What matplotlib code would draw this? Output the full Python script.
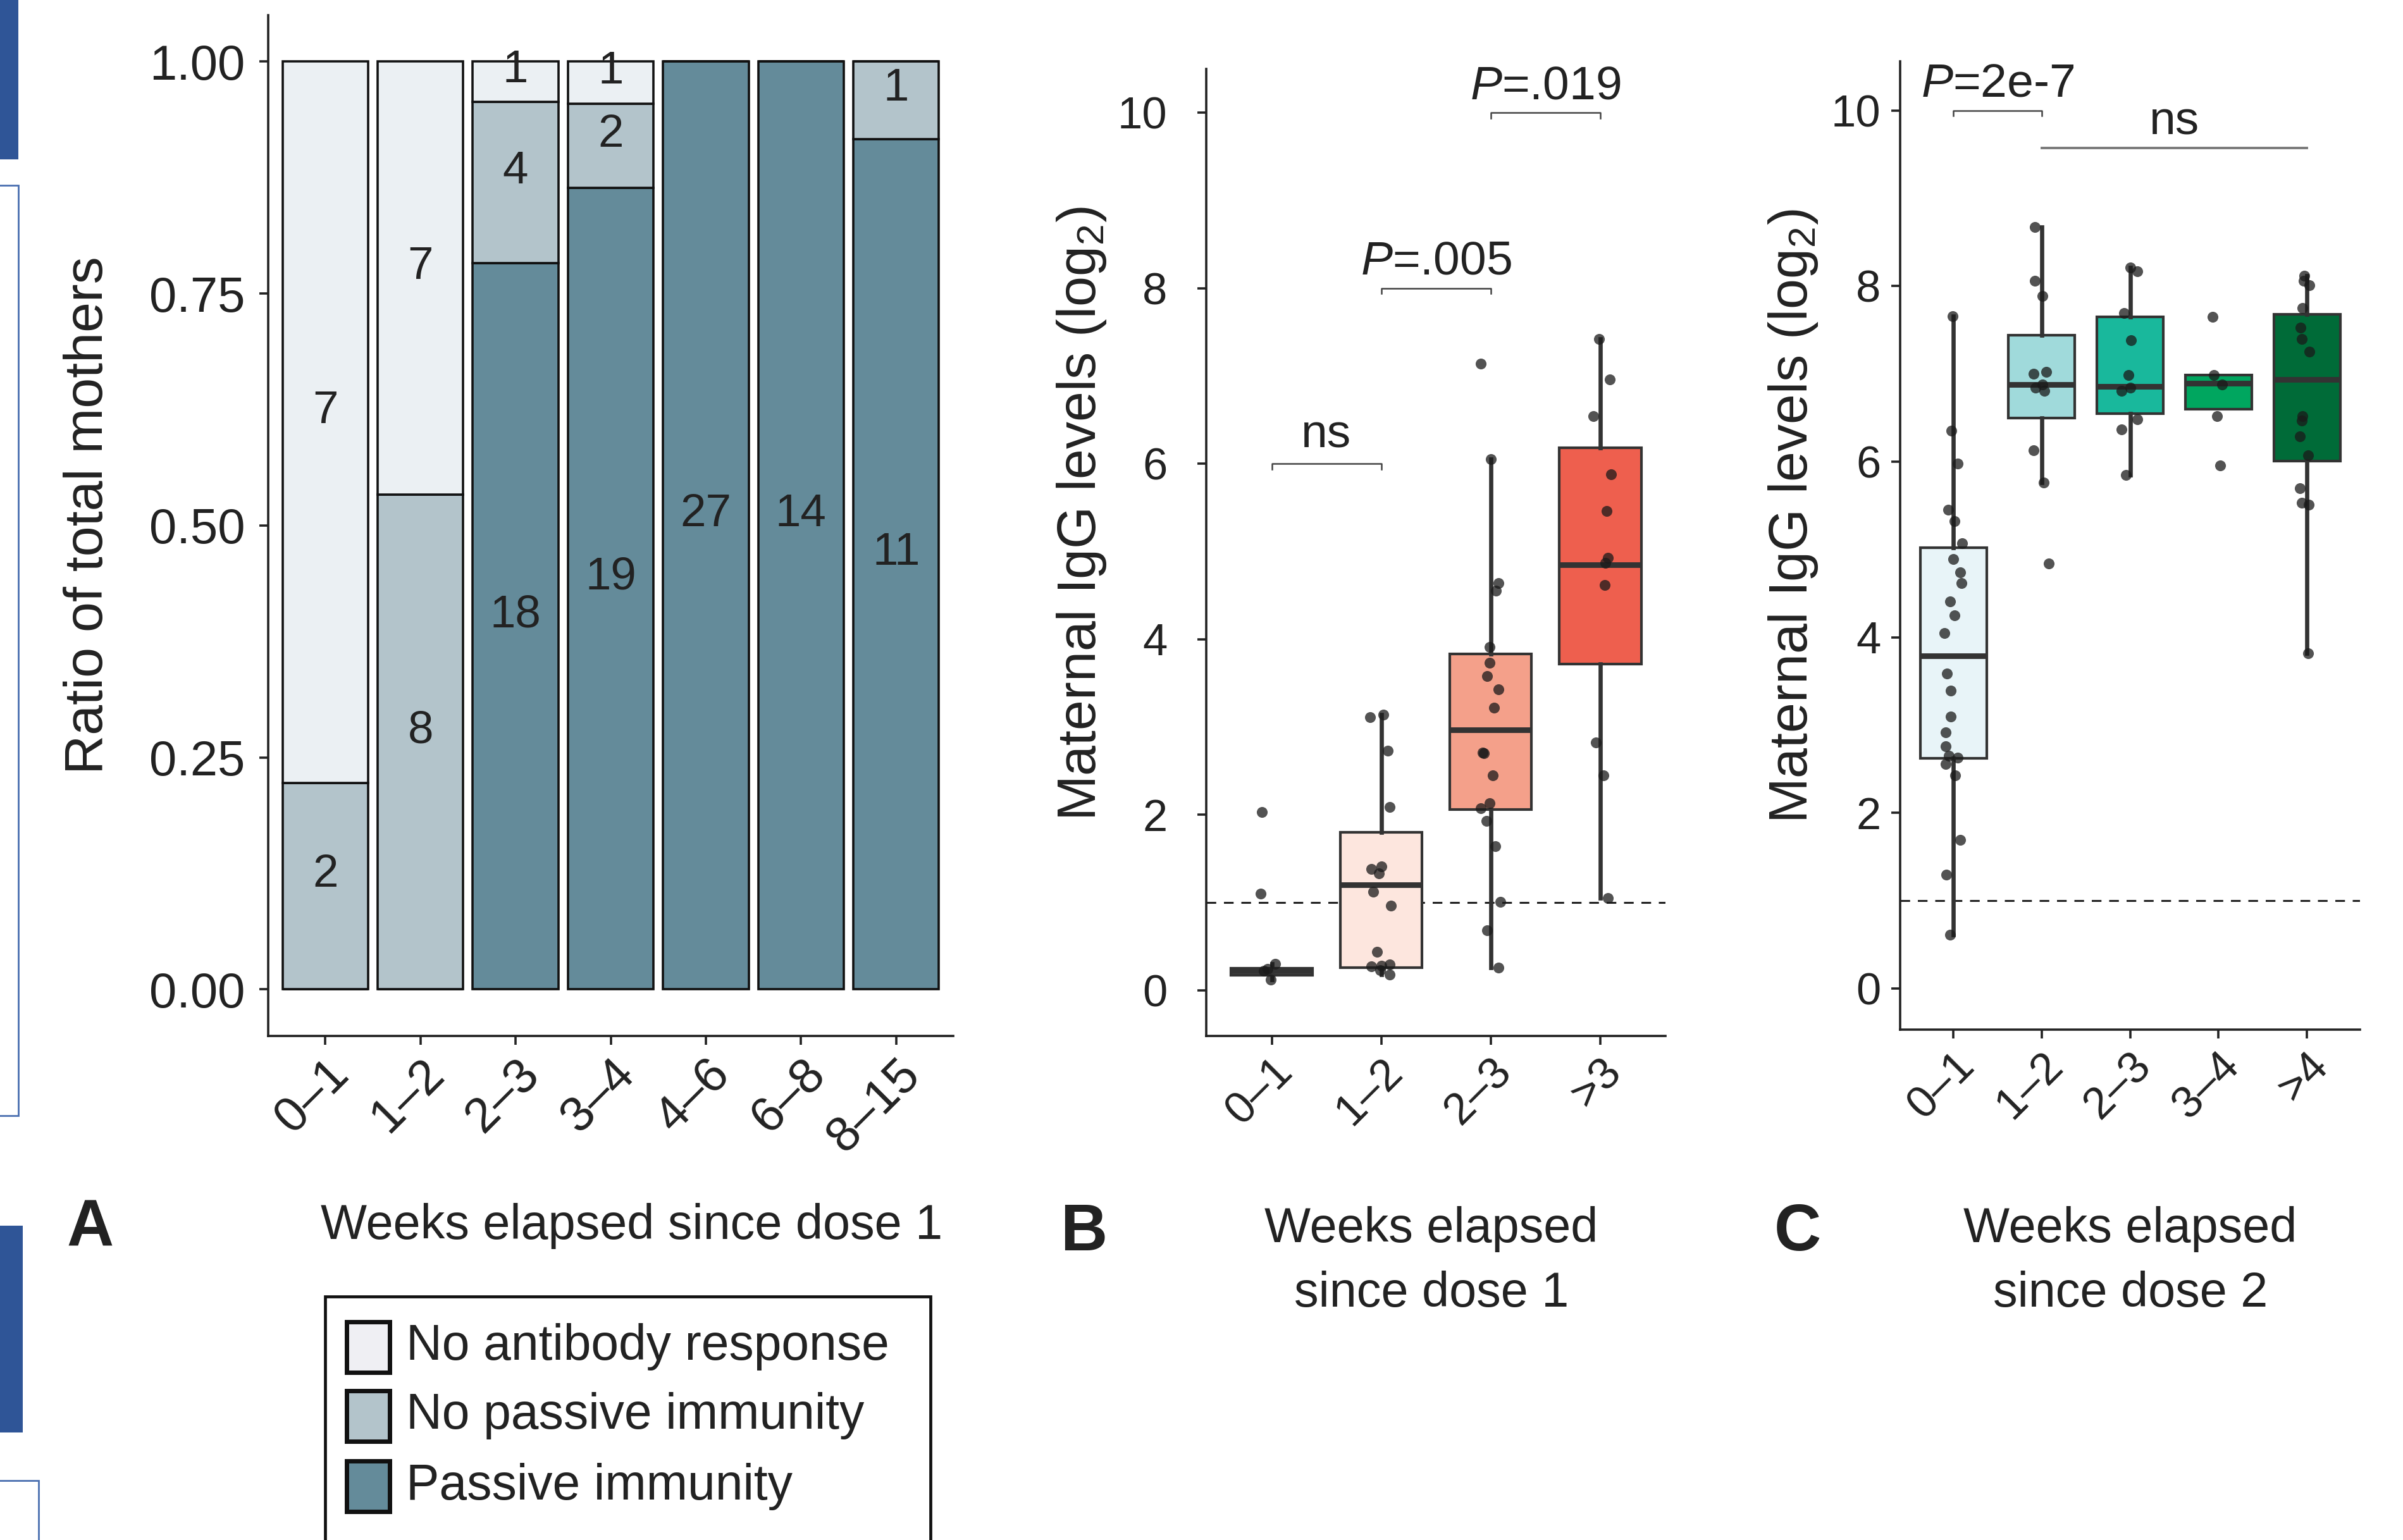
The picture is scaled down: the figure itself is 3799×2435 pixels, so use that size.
import numpy as np
import matplotlib
matplotlib.use("Agg")
from matplotlib import pyplot as plt
from matplotlib import font_manager as fm
from matplotlib.patches import Rectangle

# the figure's text is a tall, narrow Helvetica; use Liberation Sans Narrow if it is there
_names = {f.name for f in fm.fontManager.ttflist}
HAS_NARROW = 'Liberation Sans Narrow' in _names
NARROW = 'Liberation Sans Narrow' if HAS_NARROW else 'Liberation Sans'
K = 1.0 if HAS_NARROW else 0.82

plt.rcParams['font.family'] = ['Liberation Sans', 'DejaVu Sans']
plt.rcParams['mathtext.fontset'] = 'custom'
plt.rcParams['mathtext.rm'] = NARROW
plt.rcParams['mathtext.it'] = NARROW + ':italic'

# ---- panel A: counts per week bin
weeks_a = ['0–1', '1–2', '2–3', '3–4', '4–6', '6–8', '8–15']
passive = [0, 0, 18, 19, 27, 14, 11]
no_passive = [2, 8, 4, 2, 0, 0, 1]
no_response = [7, 7, 1, 1, 0, 0, 0]

# ---- panel B: IgG after dose 1 (jitter offsets too)
weeks_b = ['0–1', '1–2', '2–3', '>3']
b_vals = [
    [2.03, 1.10, 0.30, 0.22, 0.12, 0.24],
    [3.11, 3.14, 2.73, 2.09, 1.38, 1.41, 1.33, 1.12, 0.96, 0.44, 0.27, 0.28, 0.29, 0.18, 0.23],
    [7.14, 6.05, 4.64, 4.55, 3.91, 3.73, 3.58, 3.43, 3.22, 2.71, 2.70, 2.45, 2.13, 2.07, 1.93,
     1.64, 1.01, 0.68, 0.26],
    [7.42, 6.96, 6.54, 5.88, 5.46, 4.93, 4.87, 4.62, 2.82, 2.45, 1.05],
]
b_jit = [
    [-0.09, -0.10, 0.03, -0.07, -0.01, -0.04],
    [-0.10, 0.02, 0.06, 0.08, -0.09, 0.0, -0.02, -0.07, 0.09, -0.04, -0.09, 0.0, 0.08, 0.08, -0.01],
    [-0.09, 0.0, 0.07, 0.05, -0.01, -0.01, -0.03, 0.07, 0.03, -0.07, -0.06, 0.02, -0.01, -0.09,
     -0.04, 0.04, 0.09, -0.03, 0.07],
    [-0.01, 0.09, -0.06, 0.10, 0.06, 0.07, 0.05, 0.04, -0.04, 0.03, 0.07],
]
b_q1 = [0.17, 0.26, 2.06, 3.72]
b_med = [0.22, 1.20, 2.97, 4.85]
b_q3 = [0.25, 1.80, 3.83, 6.18]
b_lo = [0.12, 0.18, 0.26, 1.05]
b_hi = [0.30, 3.14, 6.05, 7.42]
b_colors = ['#fdeee8', '#fde6de', '#f4a08a', '#ee5f4e']

# ---- panel C: IgG after dose 2
weeks_c = ['0–1', '1–2', '2–3', '3–4', '>4']
c_vals = [
    [7.66, 6.35, 5.98, 5.45, 5.32, 5.07, 4.89, 4.74, 4.62, 4.41, 4.25, 4.05, 3.59, 3.39, 3.10,
     2.92, 2.76, 2.65, 2.63, 2.56, 2.43, 1.69, 1.30, 0.61],
    [8.67, 8.06, 7.89, 7.00, 7.02, 6.84, 6.88, 6.81, 6.13, 5.76, 4.84],
    [8.21, 8.17, 7.69, 7.38, 6.99, 6.84, 6.81, 6.48, 6.37, 5.85],
    [7.65, 6.99, 6.88, 6.52, 5.96],
    [8.12, 8.06, 8.01, 7.75, 7.53, 7.40, 7.25, 6.52, 6.47, 6.29, 6.07, 5.70, 5.53, 5.51, 3.82],
]
c_jit = [
    [-0.01, -0.02, 0.05, -0.06, 0.01, 0.10, 0.0, 0.08, 0.09, -0.04, 0.01, -0.10, -0.07, -0.03,
     -0.03, -0.09, -0.09, -0.05, 0.05, -0.09, 0.02, 0.08, -0.08, -0.04],
    [-0.08, -0.08, 0.01, -0.09, 0.05, -0.07, 0.01, 0.03, -0.09, 0.02, 0.08],
    [0.0, 0.08, -0.07, 0.01, -0.02, 0.0, -0.10, 0.08, -0.10, -0.05],
    [-0.07, -0.05, 0.04, -0.02, 0.02],
    [-0.03, -0.04, 0.03, -0.05, -0.07, -0.06, 0.03, -0.05, -0.06, -0.08, 0.01, -0.08, -0.06, 0.02, 0.01],
]
c_q1 = [2.62, 6.50, 6.55, 6.60, 6.01]
c_med = [3.79, 6.88, 6.86, 6.89, 6.94]
c_q3 = [5.02, 7.44, 7.65, 6.99, 7.68]
c_lo = [0.61, 5.76, 5.85, 6.60, 3.82]
c_hi = [7.66, 8.67, 8.21, 6.99, 8.12]
c_colors = ['#e8f4f8', '#a0dadb', '#19b89c', '#00a65f', '#006b38']

col_none = '#ebf0f3'
col_nopass = '#b3c4cb'
col_pass = '#648b9a'
TXT = '#222222'
FS = 28

fig = plt.figure(figsize=(18.995, 12.175), dpi=200)


def style_axis(ax, pad):
    for s in ['top', 'right']:
        ax.spines[s].set_visible(False)
    for s in ['left', 'bottom']:
        ax.spines[s].set_linewidth(1.3)
        ax.spines[s].set_color('#222222')
    ax.tick_params(length=5, width=1.3, color='#222222', labelsize=FS, labelcolor=TXT)
    ax.tick_params(axis='y', pad=pad)


def xlabels(ax, labels, narrow=False):
    ax.set_xticks(range(len(labels)))
    ax.set_xticklabels(labels, rotation=45, ha='right', va='top', rotation_mode='anchor')
    if narrow:
        for t in ax.get_xticklabels() + ax.get_yticklabels():
            t.set_fontfamily(NARROW)
            t.set_fontsize(31 * K)


def ylabel(ax, text, x, y):
    ax.text(x, y, text, transform=ax.transAxes, rotation=90, ha='center', va='center',
            fontsize=31, color=TXT)


# ---------------- A
axA = fig.add_axes([0.1116, 0.3274, 0.2851, 0.6627])
x = np.arange(len(weeks_a))
tot = np.array(passive) + np.array(no_passive) + np.array(no_response)
p1 = np.array(passive) / tot
p2 = np.array(no_passive) / tot
p3 = np.array(no_response) / tot
kw = dict(width=0.9, edgecolor='#111111', linewidth=1.3)
axA.bar(x, p1, color=col_pass, **kw)
axA.bar(x, p2, bottom=p1, color=col_nopass, **kw)
axA.bar(x, p3, bottom=p1 + p2, color=col_none, **kw)
for i in range(len(x)):
    for cnt, lo, h in [(passive[i], 0, p1[i]), (no_passive[i], p1[i], p2[i]),
                       (no_response[i], p1[i] + p2[i], p3[i])]:
        if cnt > 0:
            axA.text(x[i], lo + h / 2 + 0.012, str(cnt), ha='center', va='center',
                     fontsize=32 * K, family=NARROW, color=TXT)
axA.set_xlim(-0.6, 6.6)
axA.set_ylim(-0.05, 1.05)
axA.set_yticks([0, 0.25, 0.5, 0.75, 1.0])
axA.set_yticklabels(['0.00', '0.25', '0.50', '0.75', '1.00'])
style_axis(axA, 8)
xlabels(axA, weeks_a)
ylabel(axA, 'Ratio of total mothers', -0.262, 0.51)


def boxes(ax, vals, jit, q1, med, q3, lo, hi, colors):
    stats = []
    for i in range(len(vals)):
        stats.append(dict(q1=q1[i], med=med[i], q3=q3[i], whislo=lo[i], whishi=hi[i], fliers=[]))
    bp = ax.bxp(stats, positions=range(len(vals)), widths=0.75, patch_artist=True,
                showcaps=False, showfliers=False,
                boxprops=dict(linewidth=1.5, edgecolor='#333333'),
                whiskerprops=dict(linewidth=2.4, color='#333333'),
                medianprops=dict(linewidth=3.2, color='#333333'))
    for patch, c in zip(bp['boxes'], colors):
        patch.set_facecolor(c)
    for i in range(len(vals)):
        ax.scatter(np.full(len(vals[i]), i) + np.array(jit[i]), vals[i], s=38, color='#1a1a1a',
                   alpha=0.75, linewidths=0, zorder=5)
    ax.axhline(1.0, color='#222222', lw=1.1, ls=(0, (5, 4)), zorder=1)


def bracket(ax, x0, x1, y, label, ty, tip=0.06, color='#444444', lw=0.9):
    ax.plot([x0, x0, x1, x1], [y - tip, y, y, y - tip], color=color, lw=lw, clip_on=False)
    ax.text((x0 + x1) / 2, ty, label, ha='center', va='bottom', fontsize=33 * K, family=NARROW,
            color=TXT, clip_on=False)


# ---------------- B
axB = fig.add_axes([0.5019, 0.3274, 0.1913, 0.6278])
boxes(axB, b_vals, b_jit, b_q1, b_med, b_q3, b_lo, b_hi, b_colors)
axB.set_xlim(-0.6, 3.6)
axB.set_ylim(-0.52, 10.5)
axB.set_yticks([0, 2, 4, 6, 8, 10])
style_axis(axB, 17)
xlabels(axB, weeks_b, narrow=True)
ylabel(axB, 'Maternal IgG levels (log$_2$)', -0.27, 0.54)
bracket(axB, 0, 1, 6.0, 'ns', 6.08)
bracket(axB, 1, 2, 8.0, r'$\mathit{P}$=.005', 8.05)
bracket(axB, 2, 3, 10.0, r'$\mathit{P}$=.019', 10.05)

# ---------------- C
axC = fig.add_axes([0.7908, 0.3313, 0.1913, 0.6289])
boxes(axC, c_vals, c_jit, c_q1, c_med, c_q3, c_lo, c_hi, c_colors)
axC.set_xlim(-0.6, 4.6)
axC.set_ylim(-0.47, 10.56)
axC.set_yticks([0, 2, 4, 6, 8, 10])
style_axis(axC, 6)
xlabels(axC, weeks_c, narrow=True)
ylabel(axC, 'Maternal IgG levels (log$_2$)', -0.233, 0.53)
bracket(axC, 0, 1, 10.0, r'$\mathit{P}$=2e-7', 10.05)
bracket(axC, 1, 4, 9.57, 'ns', 9.62, tip=0, color='#7a7a7a', lw=1.4)

# ---------------- x titles and panel letters
fig.text(0.2628, 0.204, 'Weeks elapsed since dose 1', ha='center', va='center', fontsize=34 * K,
         family=NARROW, color=TXT)
fig.text(0.5957, 0.181, 'Weeks elapsed\nsince dose 1', ha='center', va='center', fontsize=34 * K,
         family=NARROW, color=TXT, linespacing=1.2 if HAS_NARROW else 1.5)
fig.text(0.8865, 0.181, 'Weeks elapsed\nsince dose 2', ha='center', va='center', fontsize=34 * K,
         family=NARROW, color=TXT, linespacing=1.2 if HAS_NARROW else 1.5)
for lx, ly, l in [(0.0376, 0.202, 'A'), (0.4509, 0.199, 'B'), (0.748, 0.199, 'C')]:
    fig.text(lx, ly, l, ha='center', va='center', fontsize=37, fontweight='bold', color=TXT)

# ---------------- legend (frame runs off the bottom of the page)
fig.patches.append(Rectangle((0.1352, -0.05), 0.2519, 0.2082, transform=fig.transFigure,
                             fill=False, edgecolor='#111111', linewidth=1.7))
leg_labels = ['No antibody response', 'No passive immunity', 'Passive immunity']
leg_cols = ['#efeff3', col_nopass, col_pass]
for yc, lab, c in zip([0.1254, 0.0806, 0.0348], leg_labels, leg_cols):
    fig.patches.append(Rectangle((0.1531 - 0.0089, yc - 0.0164), 0.0179, 0.0328,
                                 transform=fig.transFigure, facecolor=c, edgecolor='#111111',
                                 linewidth=2.5))
    fig.text(0.169, yc, lab, ha='left', va='center', fontsize=34.5 * K, family=NARROW, color=TXT)

# ---------------- page fragments at the left edge
blue = '#2f5597'
fig.patches.append(Rectangle((0, 1 - 104 / 1005), 12 / 1568, 104 / 1005, transform=fig.transFigure,
                             facecolor=blue, edgecolor='none'))
fig.patches.append(Rectangle((-0.01, 1 - 728 / 1005), 0.01 + 12 / 1568, 607 / 1005,
                             transform=fig.transFigure, fill=False, edgecolor='#4a6fb0', linewidth=1.0))
fig.patches.append(Rectangle((0, 1 - 935 / 1005), 15 / 1568, 135 / 1005, transform=fig.transFigure,
                             facecolor=blue, edgecolor='none'))
fig.patches.append(Rectangle((-0.01, -0.05), 0.01 + 25 / 1568, 0.05 + 39 / 1005,
                             transform=fig.transFigure, fill=False, edgecolor='#4a6fb0', linewidth=1.0))

fig.savefig('out.png', dpi=200)
